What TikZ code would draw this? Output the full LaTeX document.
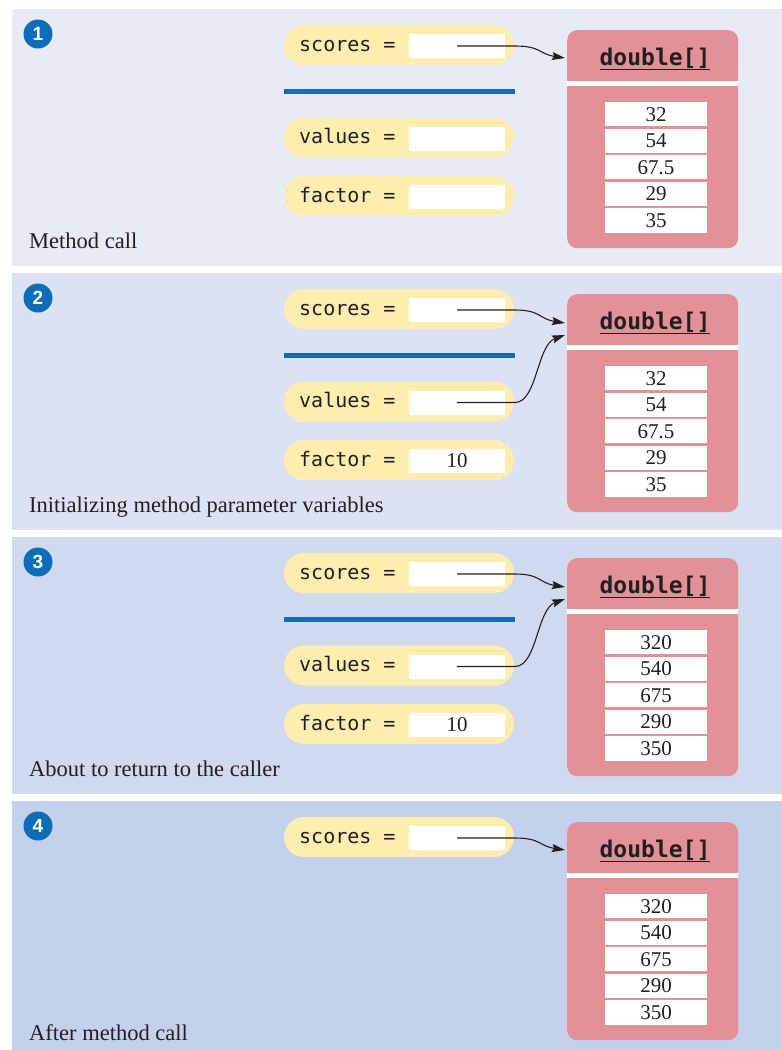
\documentclass[tikz,border=0pt]{standalone}
\usepackage{fontspec}
\setmainfont{Liberation Serif}
\setmonofont{DejaVu Sans Mono}
\newfontfamily\badgefont{Liberation Sans}
\usetikzlibrary{arrows.meta}

\definecolor{bgone}{RGB}{232,234,246}
\definecolor{bgtwo}{RGB}{220,225,243}
\definecolor{bgthree}{RGB}{208,218,238}
\definecolor{bgfour}{RGB}{195,209,236}
\definecolor{pillyellow}{RGB}{253,238,176}
\definecolor{arrayred}{RGB}{227,145,150}
\definecolor{badgeblue}{RGB}{13,109,183}
\definecolor{inkdark}{RGB}{35,31,32}

\tikzset{
  pill/.style={fill=pillyellow, rounded corners=20pt, minimum width=230pt,
    minimum height=40pt, inner sep=0pt},
  varlabel/.style={anchor=base west, inner sep=0pt, text=inkdark,
    font=\ttfamily\fontsize{20}{20}\selectfont},
  slot/.style={fill=white, minimum width=96pt, minimum height=24pt, inner sep=0pt,
    text=inkdark, font=\fontsize{21}{21}\selectfont},
  arraybox/.style={fill=arrayred, rounded corners=10pt, minimum width=171pt,
    minimum height=218pt, inner sep=0pt},
  arrayhead/.style={anchor=base, inner sep=0pt, text=inkdark,
    font=\ttfamily\bfseries\fontsize{23}{23}\selectfont},
  cell/.style={fill=white, minimum width=102pt, minimum height=24.3pt, inner sep=0pt,
    text=inkdark, font=\fontsize{21}{21}\selectfont},
  badge/.style={circle, fill=badgeblue, minimum size=29pt, inner sep=0pt, text=white,
    font=\badgefont\bfseries\fontsize{19}{19}\selectfont},
  caption/.style={anchor=base west, inner sep=0pt, text=inkdark,
    font=\fontsize{22.5}{22.5}\selectfont},
  divider/.style={draw=badgeblue, line width=5pt},
  ref/.style={draw=inkdark, line width=1.1pt,
    -{Stealth[length=13pt,width=8pt,inset=2pt]}},
}

% a variable: name, centre y, label, contents of its slot
\newcommand\variable[4]{%
  \node[pill] (#1) at (399,#2) {};
  \node[varlabel] (#1label) at (299,{#2+6}) {#3};
  \node[slot] (#1slot) at (457,{#2+1}) {#4};
}

% an array object: name, top y, values
\newcommand\arrayobj[3]{%
  \node[arraybox, anchor=north west] (#1) at (567,#2) {};
  \node[arrayhead] (#1head) at (655,{#2+35}) {\underline{double[]}};
  \draw[white, line width=5pt] ([yshift=-53pt]#1.north west) -- ([yshift=-53pt]#1.north east);
  \foreach \v [count=\i] in {#3}
    \node[cell] (#1c\i) at (656,{#2+84.15+(\i-1)*26.55}) {\v};
}

\begin{document}
\begin{tikzpicture}[x=1pt,y=-1pt]
  \useasboundingbox (0,0) rectangle (782,1050);

  % panel backgrounds
  \fill[bgone]   (12,9)   rectangle (782,266);
  \fill[bgtwo]   (12,273) rectangle (782,530);
  \fill[bgthree] (12,537) rectangle (782,794);
  \fill[bgfour]  (12,801) rectangle (782,1050);

  % ---- step 1: method call
  \node[badge] (b1) at (38,34) {1};
  \variable{sa}{45}{scores =}{}
  \draw[divider] (284,91.5) coordinate (da) -- (515,91.5) coordinate (db);
  \variable{va}{137.5}{values =}{}
  \variable{fa}{196}{factor =}{}
  \arrayobj{arra}{30}{32,54,67.5,29,35}
  \coordinate (ta) at ([xshift=-2pt,yshift=-28pt]arra.north west);
  \draw[ref] (saslot.center) -- ++(58,0) .. controls +(26,0) and +(-26,-4) .. (ta);
  \node[caption] (capa) at (29,248) {Method call};

  % ---- step 2: initializing parameter variables
  \node[badge] (b2) at (38,298) {2};
  \variable{sb}{309}{scores =}{}
  \draw[divider] (284,355.5) coordinate (dc) -- (515,355.5) coordinate (dd);
  \variable{vb}{401.5}{values =}{}
  \variable{fb}{460}{factor =}{10}
  \arrayobj{arrb}{294}{32,54,67.5,29,35}
  \coordinate (tb) at ([xshift=-2pt,yshift=-29pt]arrb.north west);
  \coordinate (tbv) at ([xshift=-2pt,yshift=-41pt]arrb.north west);
  \draw[ref] (sbslot.center) -- ++(58,0) .. controls +(26,0) and +(-26,-4) .. (tb);
  \draw[ref] (vbslot.center) -- ++(58,0) .. controls +(22,0) and +(-28,10) .. (tbv);
  \node[caption] (capb) at (29,512) {Initializing method parameter variables};

  % ---- step 3: about to return
  \node[badge] (b3) at (38,562) {3};
  \variable{sc}{573}{scores =}{}
  \draw[divider] (284,619.5) coordinate (de) -- (515,619.5) coordinate (df);
  \variable{vc}{665.5}{values =}{}
  \variable{fc}{724}{factor =}{10}
  \arrayobj{arrc}{558}{320,540,675,290,350}
  \coordinate (tc) at ([xshift=-2pt,yshift=-29pt]arrc.north west);
  \coordinate (tcv) at ([xshift=-2pt,yshift=-41pt]arrc.north west);
  \draw[ref] (scslot.center) -- ++(58,0) .. controls +(26,0) and +(-26,-4) .. (tc);
  \draw[ref] (vcslot.center) -- ++(58,0) .. controls +(22,0) and +(-28,10) .. (tcv);
  \node[caption] (capc) at (29,776) {About to return to the caller};

  % ---- step 4: after the call
  \node[badge] (b4) at (38,826) {4};
  \variable{sd}{837}{scores =}{}
  \arrayobj{arrd}{822}{320,540,675,290,350}
  \coordinate (td) at ([xshift=-2pt,yshift=-28pt]arrd.north west);
  \draw[ref] (sdslot.center) -- ++(58,0) .. controls +(26,0) and +(-26,-4) .. (td);
  \node[caption] (capd) at (29,1040) {After method call};
\end{tikzpicture}
\end{document}
